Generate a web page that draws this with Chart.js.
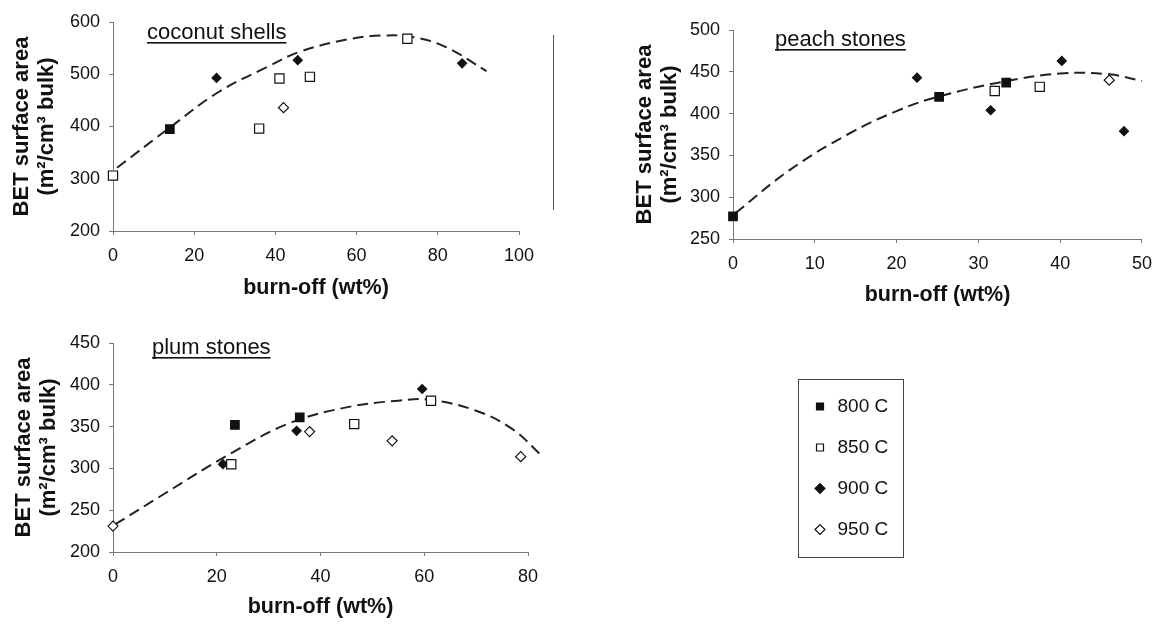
<!DOCTYPE html>
<html><head><meta charset="utf-8">
<script src="https://cdn.jsdelivr.net/npm/chart.js@4.4.1/dist/chart.umd.min.js"></script>
<style>
html,body{margin:0;padding:0;background:#fff;width:1162px;height:624px;overflow:hidden;}
canvas{position:absolute;}
#legendBox{position:absolute;left:798px;top:379px;width:104px;height:177px;border:1px solid #444;}
</style></head><body>
<div id="legendBox"></div>
<canvas id="coco" width="570" height="310" style="left:0;top:0"></canvas>
<canvas id="peach" width="542" height="320" style="left:620px;top:0"></canvas>
<canvas id="plum" width="600" height="304" style="left:0;top:320px"></canvas>
<canvas id="leg" width="240" height="200" style="left:790px;top:375px"></canvas>
<script>
const FONT = "'Liberation Sans', Arial, Helvetica, sans-serif";
Chart.defaults.font.family = FONT;
Chart.defaults.color = '#111';

// ---- series / categories ----
const SERIES = ['800 C', '850 C', '900 C', '950 C'];
const X_TITLE = 'burn-off (wt%)';
const Y_TITLE = ['BET surface area', '(m²/cm³ bulk)'];

// ---- coconut shells ----
const coco800X = [14];            const coco800Y = [395];
const coco850X = [0, 36, 41, 48.5, 72.5]; const coco850Y = [306, 396, 492, 495, 568];
const coco900X = [25.5, 45.5, 86]; const coco900Y = [493, 527, 521];
const coco950X = [42];            const coco950Y = [436];
const cocoFitX = [1, 14, 26, 38, 46, 58, 66, 74, 82, 92];
const cocoFitY = [321, 398, 466, 514, 543, 567, 574, 571, 552, 506];

// ---- peach stones ----
const peach800X = [0, 25.2, 33.4];  const peach800Y = [277, 420, 437];
const peach850X = [32, 37.5];       const peach850Y = [427, 432];
const peach900X = [22.5, 31.5, 40.2, 47.8]; const peach900Y = [443, 404, 463, 379];
const peach950X = [46];             const peach950Y = [440];
const peachFitX = [0.3, 7, 14, 20, 25, 33, 40, 46, 50];
const peachFitY = [281, 333, 375, 403, 420, 438, 448, 447, 439];

// ---- plum stones ----
const plum800X = [23.5, 36];        const plum800Y = [352, 361];
const plum850X = [22.8, 46.5, 61.3]; const plum850Y = [305, 353, 381];
const plum900X = [21.2, 35.4, 59.6]; const plum900Y = [305, 345, 395];
const plum950X = [0, 37.9, 53.8, 78.6]; const plum950Y = [231, 344, 333, 314];
const plumFitX = [0.4, 10, 23, 34, 45, 55, 61, 70, 77, 82.5];
const plumFitY = [233, 270, 319, 354, 373, 381, 382, 369, 347, 316];

// ---- marker styles ----
const STY = [
  {ps: 'rect', bg: '#111', r: 6},
  {ps: 'rect', bg: '#fff', r: 6.5},
  {ps: 'rectRot', bg: '#111', r: 4.5},
  {ps: 'rectRot', bg: '#fff', r: 5}
];

function pts(xs, ys) { return xs.map((x, i) => ({x: x, y: ys[i]})); }

const panelTitle = {
  id: 'panelTitle',
  afterDraw(chart, args, opts) {
    if (!opts || !opts.text) return;
    const {ctx, chartArea} = chart;
    ctx.save();
    ctx.font = '22px ' + FONT;
    ctx.fillStyle = '#111';
    ctx.textBaseline = 'alphabetic';
    const x = chartArea.left + opts.dx, y = chartArea.top + opts.dy;
    ctx.fillText(opts.text, x, y);
    const w = ctx.measureText(opts.text).width;
    ctx.fillRect(x, y + 3, w, 1.6);
    if (opts.frame) {
      ctx.strokeStyle = '#555';
      ctx.lineWidth = 1;
      ctx.beginPath();
      ctx.moveTo(chartArea.right + opts.frame.dx + 0.5, chartArea.top + opts.frame.y0);
      ctx.lineTo(chartArea.right + opts.frame.dx + 0.5, chartArea.top + opts.frame.y1);
      ctx.stroke();
    }
    ctx.restore();
  }
};

function panel(id, c) {
  const sets = c.sets.map((s, i) => ({
    label: SERIES[i], data: pts(s[0], s[1]),
    pointStyle: STY[i].ps, pointRadius: STY[i].r,
    backgroundColor: STY[i].bg, borderColor: '#111', borderWidth: 1.2, order: 0, clip: false
  }));
  sets.push({
    label: 'fit', data: pts(c.fit[0], c.fit[1]), showLine: true, pointRadius: 0,
    borderColor: '#222', borderWidth: 2, borderDash: [11, 6], tension: 0.4,
    fill: false, clip: false, order: 5
  });
  new Chart(document.getElementById(id), {
    type: 'scatter',
    data: {datasets: sets},
    plugins: [panelTitle],
    options: {
      responsive: false, animation: false, devicePixelRatio: 1, events: [],
      layout: {padding: {top: c.padTop, right: c.padRight, left: 0, bottom: 0}},
      plugins: {
        legend: {display: false}, tooltip: {enabled: false},
        panelTitle: c.title
      },
      scales: {
        x: {
          type: 'linear', min: c.xMin, max: c.xMax,
          ticks: {stepSize: c.xStep, padding: 10, font: {size: 18}, color: '#111'},
          grid: {drawOnChartArea: false, drawTicks: true, tickLength: 4, color: '#777'},
          border: {display: true, color: '#777', width: 1},
          title: {display: true, text: X_TITLE, color: '#111',
                  font: {size: 21.5, weight: 'bold'}, padding: {top: 0, bottom: c.xTitlePad}},
          afterFit: s => { s.height = c.xH; }
        },
        y: {
          type: 'linear', min: c.yMin, max: c.yMax,
          ticks: {stepSize: c.yStep, padding: 9, font: {size: 18}, color: '#111'},
          grid: {drawOnChartArea: false, drawTicks: true, tickLength: 4, color: '#777'},
          border: {display: true, color: '#777', width: 1},
          title: {display: true, text: Y_TITLE, color: '#111',
                  font: {size: 22, weight: 'bold', lineHeight: 1.16}, padding: {top: c.yTitlePad, bottom: 0}},
          afterFit: s => { s.width = 113; }
        }
      }
    }
  });
}

panel('coco', {
  sets: [[coco800X, coco800Y], [coco850X, coco850Y], [coco900X, coco900Y], [coco950X, coco950Y]],
  fit: [cocoFitX, cocoFitY],
  xMin: 0, xMax: 100, xStep: 20, yMin: 200, yMax: 600, yStep: 100,
  padTop: 22, padRight: 51, xH: 79, xTitlePad: 9, yTitlePad: 9,
  title: {text: 'coconut shells', dx: 34, dy: 17, frame: {dx: 34, y0: 13, y1: 188}}
});
panel('peach', {
  sets: [[peach800X, peach800Y], [peach850X, peach850Y], [peach900X, peach900Y], [peach950X, peach950Y]],
  fit: [peachFitX, peachFitY],
  xMin: 0, xMax: 50, xStep: 10, yMin: 250, yMax: 500, yStep: 50,
  padTop: 30, padRight: 16, xH: 81, xTitlePad: 12, yTitlePad: 12,
  title: {text: 'peach stones', dx: 42, dy: 16}
});
panel('plum', {
  sets: [[plum800X, plum800Y], [plum850X, plum850Y], [plum900X, plum900Y], [plum950X, plum950Y]],
  fit: [plumFitX, plumFitY],
  xMin: 0, xMax: 80, xStep: 20, yMin: 200, yMax: 450, yStep: 50,
  padTop: 23, padRight: 72, xH: 72, xTitlePad: 4, yTitlePad: 11,
  title: {text: 'plum stones', dx: 39, dy: 11}
});

// legend chart
new Chart(document.getElementById('leg'), {
  type: 'scatter',
  data: {datasets: SERIES.map((s, i) => ({
    label: s, data: [], pointStyle: STY[i].ps, backgroundColor: STY[i].bg,
    borderColor: '#111', borderWidth: 1.2
  }))},
  options: {
    responsive: false, animation: false, devicePixelRatio: 1, events: [],
    layout: {padding: 0},
    scales: {x: {display: false}, y: {display: false}},
    plugins: {
      tooltip: {enabled: false},
      legend: {
        position: 'left', align: 'start',
        labels: {usePointStyle: true, boxWidth: 16, boxHeight: 7, padding: 22,
                 font: {size: 19}, color: '#111'}
      }
    }
  }
});
</script>
</body></html>
